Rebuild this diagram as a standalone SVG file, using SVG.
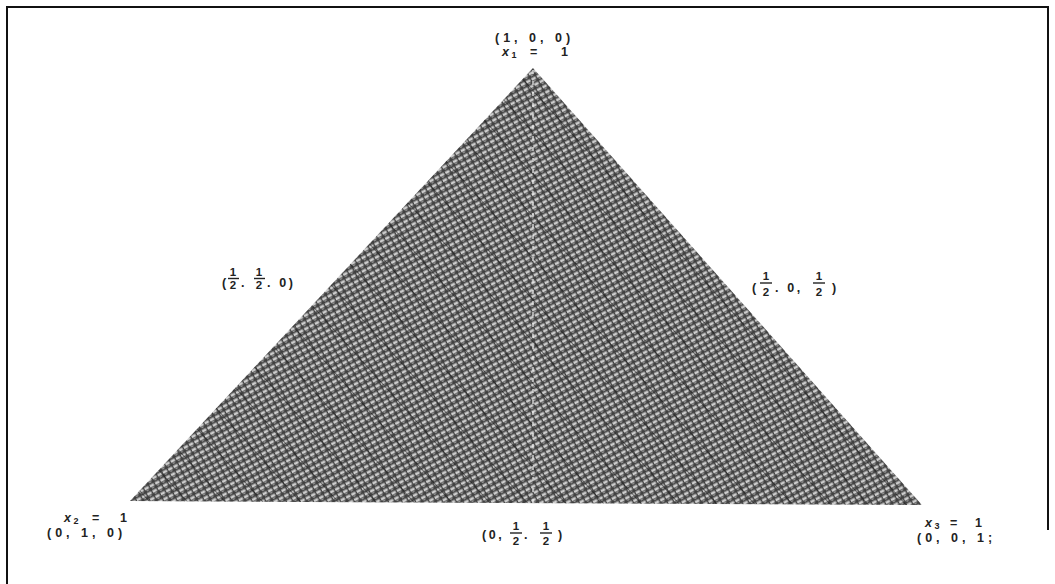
<svg xmlns="http://www.w3.org/2000/svg" width="1055" height="584" viewBox="0 0 1055 584">
  <style>
    .lbl { font-family: "Liberation Sans", Arial, sans-serif; font-size: 12.5px; font-weight: bold; fill: #222; letter-spacing: 2.6px; }
    .pt { letter-spacing: 4px; }
    .fr { font-family: "Liberation Sans", Arial, sans-serif; font-size: 11.5px; font-weight: bold; fill: #222; text-anchor: middle; }
    .bar { stroke: #222; stroke-width: 1.4; }
    .it { font-style: italic; }
  </style>
  <defs>
    <pattern id="weave" width="6" height="6" patternUnits="userSpaceOnUse" patternTransform="rotate(-28)">
      <rect width="6" height="6" fill="#404040"/>
      <rect x="0" y="0.5" width="4.6" height="2.8" fill="#cdcdcd"/>
      <rect x="1" y="3.8" width="2.4" height="1.3" fill="#949494"/>
    </pattern>
    <pattern id="grid" width="28" height="28" patternUnits="userSpaceOnUse" patternTransform="rotate(48)">
      <line x1="0" y1="0" x2="28" y2="0" stroke="#111" stroke-width="1.5" opacity="0.7"/>
    </pattern>
    <clipPath id="tri">
      <polygon points="533,68 130,501 922,505"/>
    </clipPath>
  </defs>
  <rect width="1055" height="584" fill="#fff"/>
  <g id="frame">
    <path d="M7,584 V7 H1048 V530" fill="none" stroke="#111" stroke-width="2"/>
  </g>
  <g id="simplex">
    <polygon points="533,68 130,501 922,505" fill="url(#weave)"/>
    <g clip-path="url(#tri)">
      <rect x="100" y="60" width="850" height="460" fill="url(#grid)"/>
      <line x1="533" y1="70" x2="533" y2="505" stroke="#eee" stroke-width="1.8" stroke-dasharray="4 7" opacity="0.7"/>
    </g>
  </g>
  <g id="connectors"></g>
  <g id="v1">
    <text class="lbl pt" x="495" y="42">(1, 0, 0)</text>
    <text class="lbl" x="502" y="56"><tspan class="it">x</tspan><tspan font-size="9" dy="2">1</tspan></text>
    <text class="lbl" x="530" y="56">=</text>
    <text class="lbl" x="561" y="56">1</text>
  </g>
  <g id="m12">
    <text class="lbl" x="222" y="287">(</text>
    <text class="fr" x="233" y="276">1</text><line class="bar" x1="228" y1="278.5" x2="239" y2="278.5"/><text class="fr" x="233" y="289">2</text>
    <text class="lbl" x="241" y="287">.</text>
    <text class="fr" x="259" y="276">1</text><line class="bar" x1="254" y1="278.5" x2="265" y2="278.5"/><text class="fr" x="259" y="289">2</text>
    <text class="lbl" x="267" y="287">. 0)</text>
  </g>
  <g id="m13">
    <text class="lbl" x="752" y="292">(</text>
    <text class="fr" x="766" y="280">1</text><line class="bar" x1="760" y1="283" x2="772" y2="283"/><text class="fr" x="766" y="296">2</text>
    <text class="lbl" x="775" y="292">. 0,</text>
    <text class="fr" x="819" y="280">1</text><line class="bar" x1="813" y1="283" x2="825" y2="283"/><text class="fr" x="819" y="296">2</text>
    <text class="lbl" x="832" y="292">)</text>
  </g>
  <g id="v2">
    <text class="lbl" x="64" y="522"><tspan class="it">x</tspan><tspan font-size="9" dy="2">2</tspan></text>
    <text class="lbl" x="92" y="522">=</text>
    <text class="lbl" x="120" y="522">1</text>
    <text class="lbl pt" x="47" y="537">(0, 1, 0)</text>
  </g>
  <g id="m23">
    <text class="lbl" x="482" y="539">(0,</text>
    <text class="fr" x="516" y="530">1</text><line class="bar" x1="510" y1="533" x2="522" y2="533"/><text class="fr" x="516" y="545">2</text>
    <text class="lbl" x="524" y="539">.</text>
    <text class="fr" x="546" y="530">1</text><line class="bar" x1="540" y1="533" x2="552" y2="533"/><text class="fr" x="546" y="545">2</text>
    <text class="lbl" x="558" y="539">)</text>
  </g>
  <g id="v3">
    <text class="lbl" x="925" y="527"><tspan class="it">x</tspan><tspan font-size="9" dy="2">3</tspan></text>
    <text class="lbl" x="950" y="527">=</text>
    <text class="lbl" x="975" y="527">1</text>
    <text class="lbl pt" x="917" y="542">(0, 0, 1;</text>
  </g>
</svg>
